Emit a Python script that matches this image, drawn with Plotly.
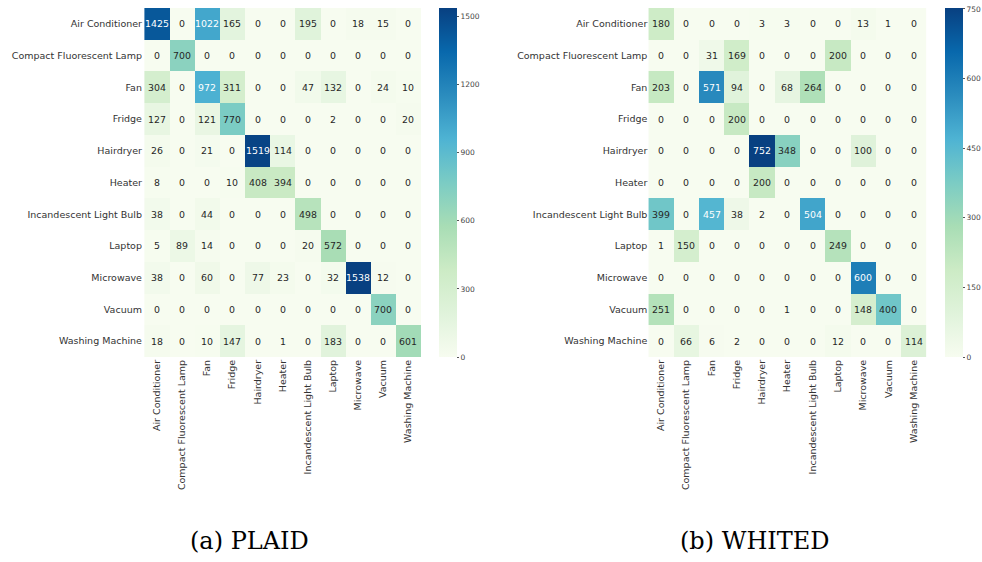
import plotly.graph_objects as go
from plotly.colors import sequential, unlabel_rgb

appliances = [
    "Air Conditioner", "Compact Fluorescent Lamp", "Fan", "Fridge", "Hairdryer",
    "Heater", "Incandescent Light Bulb", "Laptop", "Microwave", "Vacuum",
    "Washing Machine",
]

# Confusion matrices: rows = true class, columns = predicted class
plaid_counts = [
    [1425, 0, 1022, 165, 0, 0, 195, 0, 18, 15, 0],
    [0, 700, 0, 0, 0, 0, 0, 0, 0, 0, 0],
    [304, 0, 972, 311, 0, 0, 47, 132, 0, 24, 10],
    [127, 0, 121, 770, 0, 0, 0, 2, 0, 0, 20],
    [26, 0, 21, 0, 1519, 114, 0, 0, 0, 0, 0],
    [8, 0, 0, 10, 408, 394, 0, 0, 0, 0, 0],
    [38, 0, 44, 0, 0, 0, 498, 0, 0, 0, 0],
    [5, 89, 14, 0, 0, 0, 20, 572, 0, 0, 0],
    [38, 0, 60, 0, 77, 23, 0, 32, 1538, 12, 0],
    [0, 0, 0, 0, 0, 0, 0, 0, 0, 700, 0],
    [18, 0, 10, 147, 0, 1, 0, 183, 0, 0, 601],
]

whited_counts = [
    [180, 0, 0, 0, 3, 3, 0, 0, 13, 1, 0],
    [0, 0, 31, 169, 0, 0, 0, 200, 0, 0, 0],
    [203, 0, 571, 94, 0, 68, 264, 0, 0, 0, 0],
    [0, 0, 0, 200, 0, 0, 0, 0, 0, 0, 0],
    [0, 0, 0, 0, 752, 348, 0, 0, 100, 0, 0],
    [0, 0, 0, 0, 200, 0, 0, 0, 0, 0, 0],
    [399, 0, 457, 38, 2, 0, 504, 0, 0, 0, 0],
    [1, 150, 0, 0, 0, 0, 0, 249, 0, 0, 0],
    [0, 0, 0, 0, 0, 0, 0, 0, 600, 0, 0],
    [251, 0, 0, 0, 0, 1, 0, 0, 148, 400, 0],
    [0, 66, 6, 2, 0, 0, 0, 12, 0, 0, 114],
]

plaid_ticks = [0, 300, 600, 900, 1200, 1500]
whited_ticks = [0, 150, 300, 450, 600, 750]
captions = ["(a) PLAID", "(b) WHITED"]

W, H = 982, 562
GNBU = [unlabel_rgb(c) for c in sequential.GnBu]
SCALE = [[i / (len(sequential.GnBu) - 1), c] for i, c in enumerate(sequential.GnBu)]
DARK = "#262626"
FONT = "DejaVu Sans"


def cell_rgb(frac):
    frac = min(max(frac, 0.0), 1.0)
    pos = frac * (len(GNBU) - 1)
    i = min(int(pos), len(GNBU) - 2)
    t = pos - i
    return [GNBU[i][k] + (GNBU[i + 1][k] - GNBU[i][k]) * t for k in range(3)]


def luminance(rgb):
    lin = []
    for c in rgb:
        c = c / 255.0
        lin.append(c / 12.92 if c <= 0.03928 else ((c + 0.055) / 1.055) ** 2.4)
    return 0.2126 * lin[0] + 0.7152 * lin[1] + 0.0722 * lin[2]


# pixel boxes of each panel: heatmap (x0, x1, y0, y1) and colorbar left edge
panels = [
    dict(z=plaid_counts, ticks=plaid_ticks, hm=(144, 424, 8, 357), cb=442,
         cap_x=251, xa="x", ya="y"),
    dict(z=whited_counts, ticks=whited_ticks, hm=(653, 933, 8, 357), cb=952,
         cap_x=760, xa="x2", ya="y2"),
]

fig = go.Figure()
annotations = []

for k, p in enumerate(panels):
    z = p["z"]
    zmax = max(max(r) for r in z)
    x0, x1, y0, y1 = p["hm"]
    fig.add_trace(go.Heatmap(
        z=z, x=appliances, y=appliances, xaxis=p["xa"], yaxis=p["ya"],
        colorscale=SCALE, zmin=0, zmax=zmax, xgap=0, ygap=0,
        hoverinfo="skip",
        colorbar=dict(
            x=p["cb"] / W, xanchor="left", xref="paper", xpad=0,
            y=1 - y0 / H, yanchor="top", ypad=0,
            len=(y1 - y0) / H, lenmode="fraction",
            thickness=18, thicknessmode="pixels",
            outlinewidth=0,
            tickvals=p["ticks"], ticks="outside", ticklen=2.5,
            tickwidth=0.8, tickcolor="#555555",
            tickfont=dict(family=FONT, size=7.5, color="#444444"),
        ),
    ))
    for i, row in enumerate(z):
        for j, v in enumerate(row):
            lum = luminance(cell_rgb(v / zmax))
            annotations.append(dict(
                x=appliances[j], y=appliances[i], xref=p["xa"], yref=p["ya"],
                text=str(v), showarrow=False,
                font=dict(family=FONT, size=9.4,
                          color=DARK if lum > 0.408 else "#ffffff"),
            ))
    annotations.append(dict(
        x=p["cap_x"] / W, y=1 - 541 / H, xref="paper", yref="paper",
        text=captions[k], showarrow=False, xanchor="center", yanchor="middle",
        font=dict(family="DejaVu Serif", size=24, color="#000000"),
    ))

    suffix = "" if k == 0 else "2"
    axis_font = dict(family=FONT, size=9.5, color="#333333")
    fig.update_layout(**{
        "xaxis" + suffix: dict(
            domain=[x0 / W, x1 / W], anchor="y" + suffix,
            tickangle=-90, tickfont=axis_font, ticks="", ticklen=0,
            showgrid=False, zeroline=False, showline=False,
            type="category",
        ),
        "yaxis" + suffix: dict(
            domain=[1 - y1 / H, 1 - y0 / H], anchor="x" + suffix,
            autorange="reversed", tickfont=axis_font, ticks="",
            showgrid=False, zeroline=False, showline=False,
            type="category",
        ),
    })

fig.update_layout(
    width=W, height=H,
    margin=dict(l=0, r=0, t=0, b=0),
    paper_bgcolor="#ffffff", plot_bgcolor="#ffffff",
    annotations=annotations,
    showlegend=False,
)

fig.write_html("out.html")
